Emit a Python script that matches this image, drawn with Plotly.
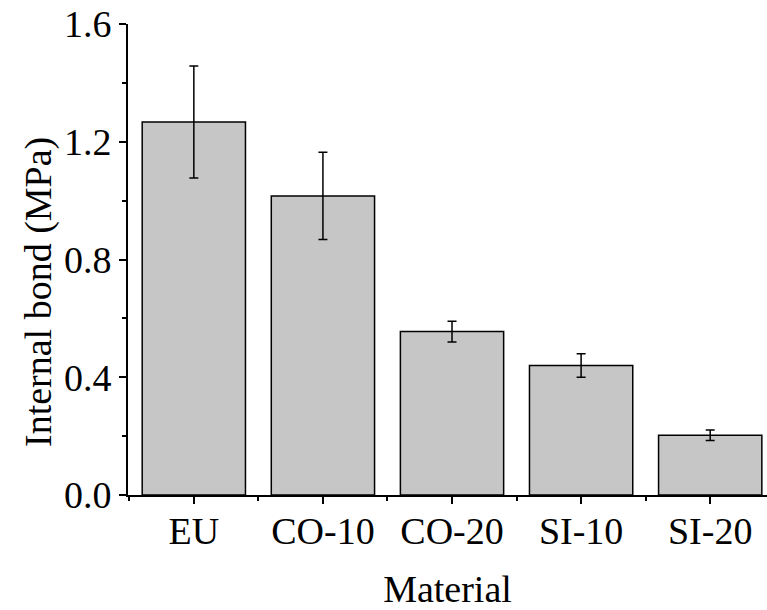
import plotly.graph_objects as go

# Internal bond strength per material (mean and standard deviation, MPa)
materials = ["EU", "CO-10", "CO-20", "SI-10", "SI-20"]
ib_mean = [1.267, 1.016, 0.555, 0.440, 0.203]
ib_sd = [0.190, 0.148, 0.035, 0.040, 0.018]

positions = list(range(len(materials)))

FONT = "Liberation Serif"
SIZE = 38

W, H = 767, 610
ML, MR, MT, MB = 128, 0, 24, 115
plot_w = W - ML - MR
plot_h = H - MT - MB

fig = go.Figure(
    go.Bar(
        x=positions,
        y=ib_mean,
        width=0.8,
        marker=dict(color="#c6c6c6", line=dict(color="#000000", width=1.5)),
        error_y=dict(type="data", array=ib_sd, visible=True,
                     color="#000000", thickness=1.5, width=4.5),
    )
)

fig.update_layout(
    width=W,
    height=H,
    margin=dict(l=ML, r=MR, t=MT, b=MB),
    plot_bgcolor="white",
    paper_bgcolor="white",
    showlegend=False,
    font=dict(family=FONT, size=SIZE, color="black"),
)

fig.update_xaxes(
    range=[-0.51, 4.44],
    tickvals=positions,
    ticktext=materials,
    ticks="outside",
    ticklen=7,
    tickwidth=1.5,
    tickcolor="black",
    minor=dict(ticks="outside", ticklen=4, tickwidth=1.5, tickcolor="black",
               tick0=0.5, dtick=1),
    showline=True,
    linecolor="black",
    linewidth=2,
    showgrid=False,
    zeroline=False,
    ticklabelstandoff=-6,
    tickfont=dict(family=FONT, size=SIZE),
    title=dict(text="Material", font=dict(family=FONT, size=SIZE), standoff=27),
)

fig.update_yaxes(
    range=[0, 1.6],
    dtick=0.4,
    tick0=0,
    tickformat=".1f",
    ticks="outside",
    ticklen=7,
    tickwidth=1.5,
    tickcolor="black",
    minor=dict(ticks="outside", ticklen=4, tickwidth=1.5, tickcolor="black",
               dtick=0.2),
    showline=True,
    linecolor="black",
    linewidth=2,
    showgrid=False,
    zeroline=False,
    tickfont=dict(family=FONT, size=SIZE),
)

# Y-axis title, placed a little below the plot's vertical centre
fig.add_annotation(
    text="Internal bond (MPa)",
    textangle=-90,
    xref="paper", yref="paper",
    x=(38 - ML) / plot_w,
    y=(H - MB - 292) / plot_h,
    xanchor="center", yanchor="middle",
    showarrow=False,
    font=dict(family=FONT, size=SIZE, color="black"),
)

fig.write_html("out.html")
